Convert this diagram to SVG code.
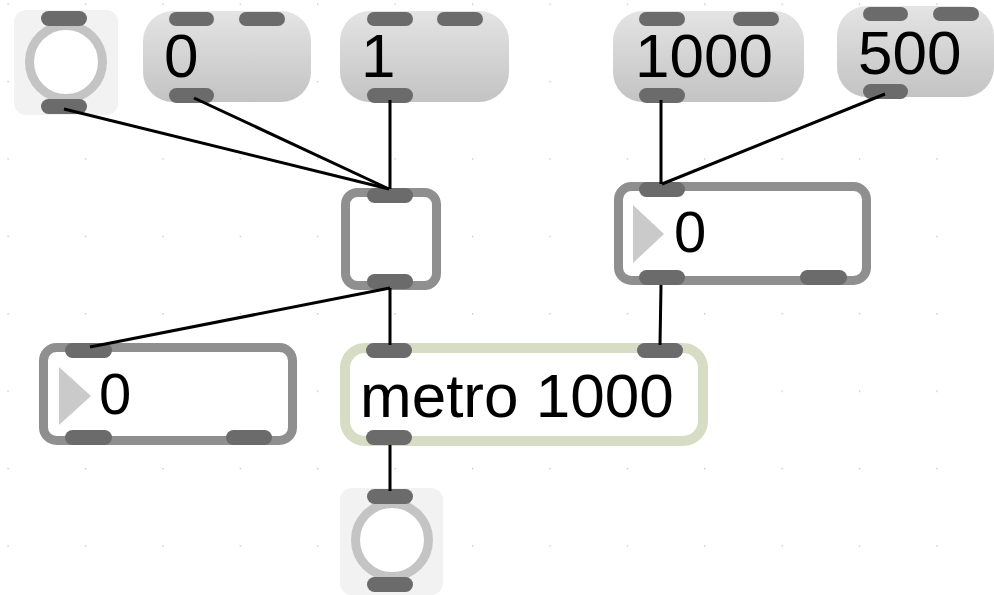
<svg xmlns="http://www.w3.org/2000/svg" width="994" height="595" viewBox="0 0 994 595">
<defs>
<linearGradient id="msgGrad" x1="0" y1="0" x2="0" y2="1">
<stop offset="0" stop-color="#e4e4e4"/>
<stop offset="1" stop-color="#c3c3c3"/>
</linearGradient>
<pattern id="grid" x="7.5" y="3.5" width="77.4" height="77.4" patternUnits="userSpaceOnUse">
<rect x="0" y="0" width="1.3" height="1.3" fill="#bdbdbd"/>
</pattern>
<style>
.port{fill:#6b6b6b}
.tglbg{fill:#f2f2f2}
.ring{fill:#ffffff;stroke:#c4c4c4;stroke-width:9}
.msg{fill:url(#msgGrad)}
.num{fill:#ffffff;stroke:#8f8f8f;stroke-width:9}
.tri{fill:#cacaca}
.obj{fill:#ffffff;stroke:#8f8f8f;stroke-width:9}
.metro{fill:#ffffff;stroke:#d6ddc4;stroke-width:10}
.txt{font-family:"Liberation Sans",Arial,sans-serif;fill:#000000}
.big{font-size:62px}
.mid{font-size:58px}
.cord{stroke:#000000;stroke-width:3;fill:none;stroke-linecap:butt}
</style>
</defs>
<rect width="994" height="595" fill="#ffffff"/>
<rect width="994" height="595" fill="url(#grid)"/>

<g id="toggle1">
<rect class="tglbg" x="14" y="10" width="104" height="105" rx="12"/>
<circle class="ring" cx="66" cy="62" r="36.5"/>
<rect class="port" x="41" y="11" width="46" height="15" rx="7.5"/>
<rect class="port" x="41" y="99" width="46" height="15" rx="7.5"/>
</g>

<g id="msg0">
<rect class="msg" x="143" y="11" width="168" height="91" rx="30"/>
<rect class="port" x="169" y="12" width="45" height="14" rx="7"/>
<rect class="port" x="239" y="12" width="46" height="14" rx="7"/>
<rect class="port" x="169" y="88" width="45" height="15" rx="7.5"/>
<text class="txt big" x="164" y="77">0</text>
</g>

<g id="msg1">
<rect class="msg" x="340" y="11" width="169" height="91" rx="30"/>
<rect class="port" x="367" y="12" width="46" height="14" rx="7"/>
<rect class="port" x="437" y="12" width="46" height="14" rx="7"/>
<rect class="port" x="367" y="88" width="46" height="15" rx="7.5"/>
<text class="txt big" x="361" y="77">1</text>
</g>

<g id="msg1000">
<rect class="msg" x="613" y="11" width="191" height="91" rx="30"/>
<rect class="port" x="639" y="12" width="46" height="14" rx="7"/>
<rect class="port" x="733" y="12" width="46" height="14" rx="7"/>
<rect class="port" x="639" y="88" width="46" height="15" rx="7.5"/>
<text class="txt big" x="635" y="77">1000</text>
</g>

<g id="msg500">
<rect class="msg" x="837" y="6" width="157" height="91" rx="30"/>
<rect class="port" x="863" y="7" width="45" height="14" rx="7"/>
<rect class="port" x="933" y="7" width="46" height="14" rx="7"/>
<rect class="port" x="863" y="84" width="45" height="15" rx="7.5"/>
<text class="txt big" x="858" y="74">500</text>
</g>

<g id="object">
<rect class="obj" x="345.5" y="192.5" width="91" height="93" rx="12"/>
<rect class="port" x="367" y="188" width="46" height="15" rx="7.5"/>
<rect class="port" x="367" y="274" width="46" height="15" rx="7.5"/>
</g>

<g id="number_right">
<rect class="num" x="618.5" y="186.5" width="248" height="94" rx="13"/>
<polygon class="tri" points="633,205 664,234 633,263"/>
<rect class="port" x="639" y="182" width="46" height="15" rx="7.5"/>
<rect class="port" x="639" y="270" width="46" height="15" rx="7.5"/>
<rect class="port" x="800" y="270" width="47" height="15" rx="7.5"/>
<text class="txt mid" x="674" y="252">0</text>
</g>

<g id="number_left">
<rect class="num" x="43.5" y="347.5" width="249" height="93" rx="13"/>
<polygon class="tri" points="59,367 91,396 59,425"/>
<rect class="port" x="65" y="343" width="47" height="15" rx="7.5"/>
<rect class="port" x="65" y="430" width="47" height="15" rx="7.5"/>
<rect class="port" x="226" y="430" width="46" height="15" rx="7.5"/>
<text class="txt mid" x="99" y="414">0</text>
</g>

<g id="metro">
<rect class="metro" x="345" y="348" width="358" height="93" rx="20"/>
<rect class="port" x="366" y="343" width="46" height="15" rx="7.5"/>
<rect class="port" x="637" y="343" width="46" height="15" rx="7.5"/>
<rect class="port" x="366" y="430" width="46" height="15" rx="7.5"/>
<text class="txt big" x="360" y="417">metro 1000</text>
</g>

<g id="toggle2">
<rect class="tglbg" x="340" y="488" width="103" height="107" rx="12"/>
<circle class="ring" cx="392" cy="540" r="36.5"/>
<rect class="port" x="367" y="489" width="46" height="15" rx="7.5"/>
<rect class="port" x="367" y="577" width="46" height="15" rx="7.5"/>
</g>

<g id="connectors">
<line class="cord" x1="64" y1="109" x2="389" y2="189"/>
<line class="cord" x1="194" y1="98" x2="389" y2="189"/>
<line class="cord" x1="390" y1="100" x2="390" y2="189"/>
<line class="cord" x1="661" y1="100" x2="661" y2="184"/>
<line class="cord" x1="885" y1="94" x2="662" y2="184"/>
<line class="cord" x1="390" y1="288" x2="90" y2="347"/>
<line class="cord" x1="390" y1="288" x2="390" y2="345"/>
<line class="cord" x1="661" y1="285" x2="660" y2="345"/>
<line class="cord" x1="390" y1="445" x2="390" y2="491"/>
</g>
</svg>
